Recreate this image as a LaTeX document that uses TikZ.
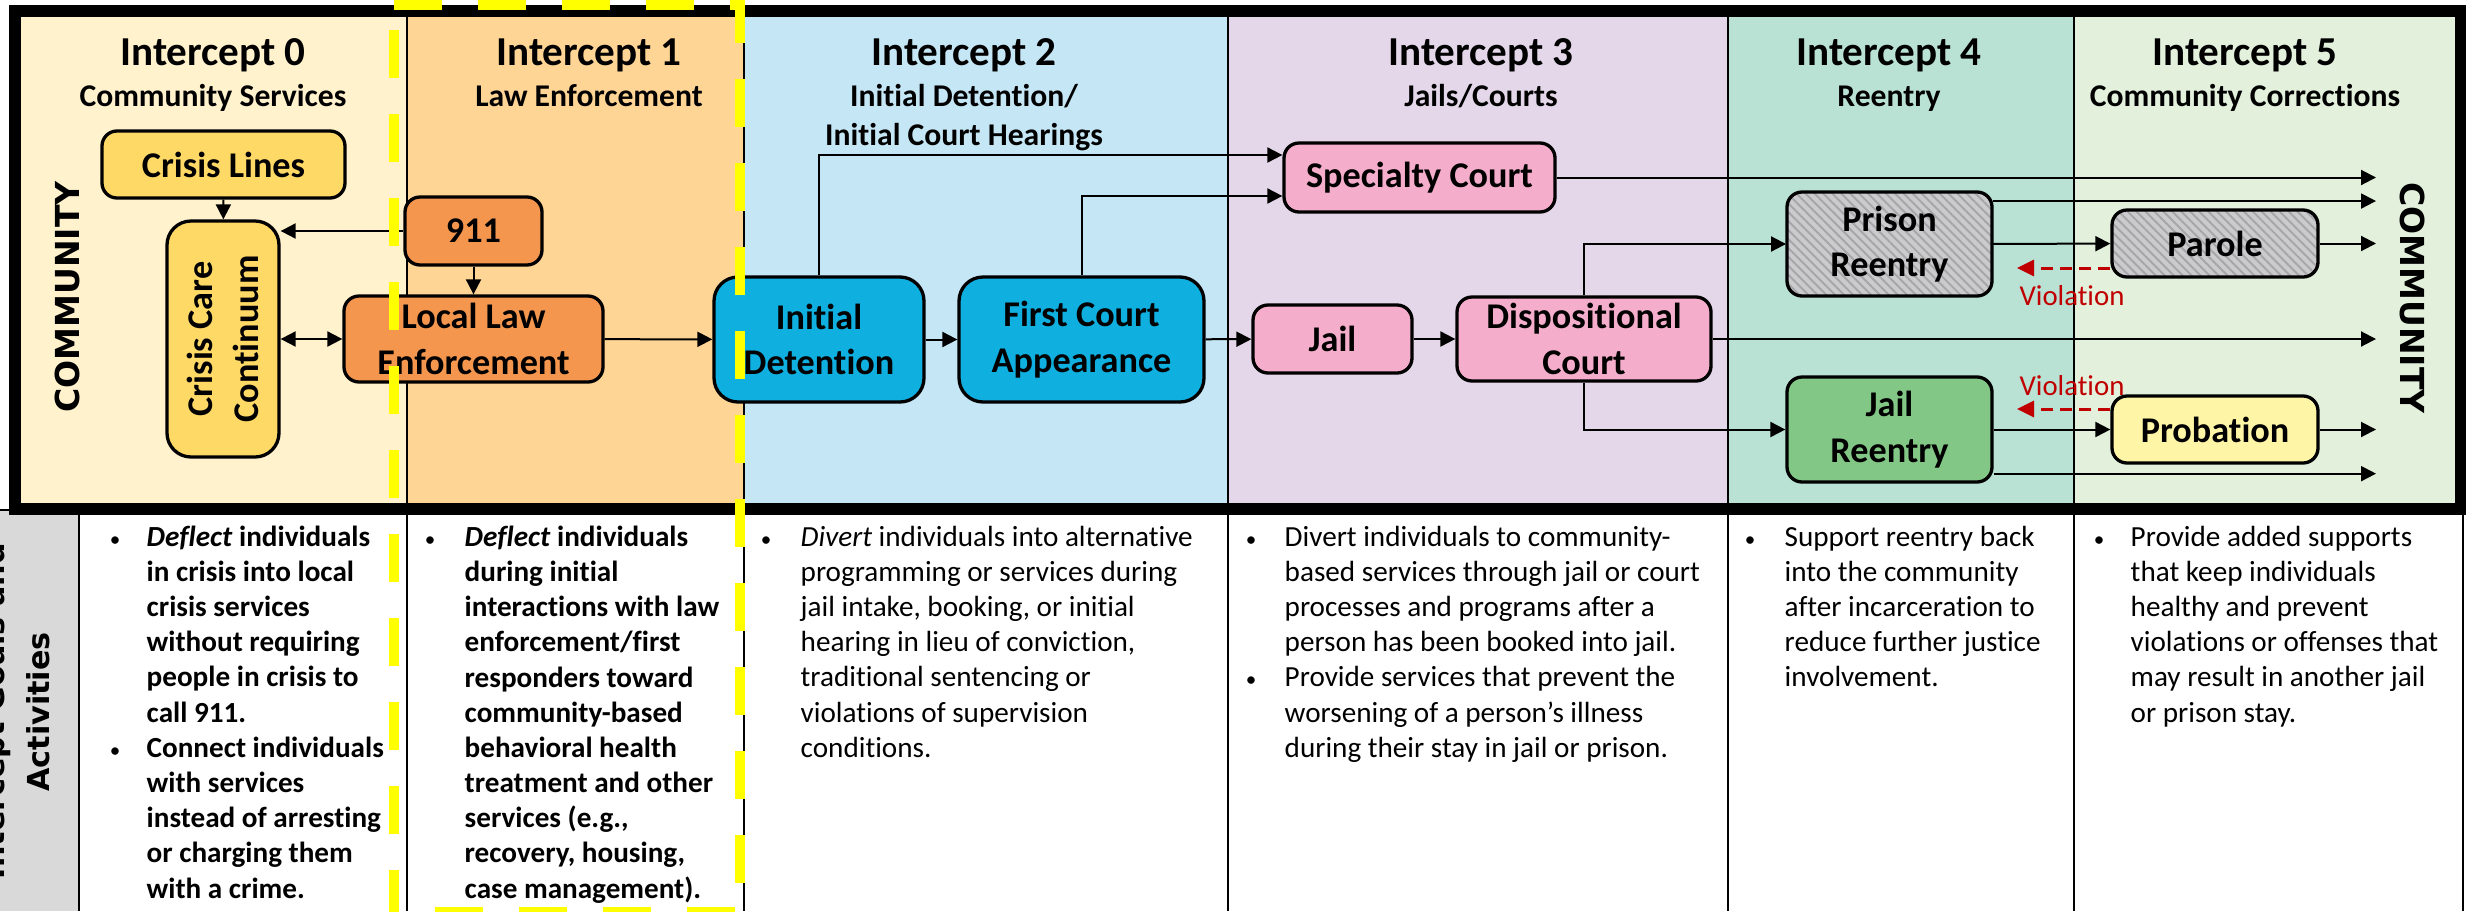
\documentclass[tikz,border=0pt]{standalone}
\usepackage{fontspec}
\usepackage{tikz}
\usetikzlibrary{arrows.meta}
\usetikzlibrary{patterns.meta}
\usetikzlibrary{calc}

\setmainfont{Carlito}[Ligatures=CommonOff]
\newfontfamily\widefont{DejaVu Sans}

\definecolor{colzero}{HTML}{FFF2CC}
\definecolor{colone}{HTML}{FFD596}
\definecolor{coltwo}{HTML}{C5E6F5}
\definecolor{colthree}{HTML}{E4D7EA}
\definecolor{colfour}{HTML}{B9E2D5}
\definecolor{colfive}{HTML}{E2F0DC}
\definecolor{sidegray}{HTML}{D9D9D9}
\definecolor{crisisgold}{HTML}{FFD966}
\definecolor{lawor}{HTML}{F5964F}
\definecolor{courtblue}{HTML}{0FAFE0}
\definecolor{jailpink}{HTML}{F4ADCA}
\definecolor{reentgreen}{HTML}{82C785}
\definecolor{probyellow}{HTML}{FFF5A6}
\definecolor{hatchgray}{HTML}{CBCBCE}
\definecolor{stripegray}{HTML}{A6A6A8}
\definecolor{viored}{HTML}{C00000}
\definecolor{dashyellow}{HTML}{FFFF00}

\begin{document}
\begin{tikzpicture}
		[x=0.1mm, y=-0.1mm,
		every node/.style={inner sep=0pt},
		>={Triangle[length=1.5mm,width=1.5mm]}
		]
		
		% Box, arrow and text styles
		\tikzstyle{stage}=[draw, line width=0.33mm, rounded corners=1.5mm, align=center, font=\fontsize{10.3}{13}\selectfont\bfseries];
		\tikzstyle{big stage}=[stage, rounded corners=2.4mm];
		\tikzstyle{hatched}=[preaction={fill=hatchgray}, pattern={Lines[angle=-45,distance=1.8pt,line width=0.55pt]}, pattern color=stripegray];
		\tikzstyle{flow}=[draw, line width=0.2mm, ->];
		\tikzstyle{violation}=[draw=viored, line width=0.3mm, dash pattern=on 1.2mm off 0.7mm, -{Triangle[length=1.7mm,width=1.6mm]}, viored];
		\tikzstyle{viotext}=[text=viored, font=\fontsize{8.2}{10}\selectfont];
		\tikzstyle{title}=[font=\fontsize{11.7}{14}\selectfont\bfseries];
		\tikzstyle{subtitle}=[align=center, font=\fontsize{9}{11.2}\selectfont\bfseries];
		\tikzstyle{side}=[font=\widefont\bfseries\fontsize{9.4}{11}\selectfont];
		\tikzstyle{goal}=[align=left, anchor=base west, font=\fontsize{8.3}{10}\selectfont];
		\tikzstyle{goal bold}=[goal, font=\fontsize{8.3}{10}\selectfont\bfseries];
		\tikzstyle{dot}=[anchor=base, font=\fontsize{6}{10}\selectfont];
		\tikzstyle{yellow dash}=[dashyellow, line width=1mm, dash pattern=on 4.8mm off 3.6mm];
		
		\path[use as bounding box, clip] (0,0) rectangle (2466,911);
		
		% Column backgrounds
		\foreach \a/\b/\c in {19/407/colzero, 407/744/colone, 744/1228/coltwo, 1228/1728/colthree, 1728/2074/colfour, 2074/2456/colfive}
		\fill[\c] (\a,17) rectangle (\b,503);
		\fill[white] (0,515) rectangle (2466,911);
		\fill[sidegray] (0,509) rectangle (79,911);
		
		% Column lines
		\foreach \x in {407, 744, 1228, 1728, 2074} \draw[line width=0.2mm] (\x,17) -- (\x,911);
		\draw[line width=0.2mm] (79,509) -- (79,911);
		\draw[line width=0.2mm] (2463,509) -- (2463,911);
		\draw[line width=0.2mm] (0,510) -- (20,510);
		\draw[line width=1.2mm] (14.5,11) rectangle (2461,509);
		
		% Headings
		\foreach \x/\n in {213/0, 589/1, 964/2, 1481/3, 1889/4, 2245/5}
		\node[title, anchor=base] (int\n) at (\x,65) {Intercept \n};
		\node[subtitle, anchor=base] (sub0) at (213,106) {Community Services};
		\node[subtitle, anchor=base] (sub1) at (589,106) {Law Enforcement};
		\node[subtitle, anchor=base] (sub2) at (964,145.5) {Initial Detention/\\Initial Court Hearings};
		\node[subtitle, anchor=base] (sub3) at (1481,106) {Jails/Courts};
		\node[subtitle, anchor=base] (sub4) at (1889,106) {Reentry};
		\node[subtitle, anchor=base] (sub5) at (2245,106) {Community Corrections};
		
		\node[side, rotate=90] (commleft) at (67,297) {COMMUNITY};
		\node[side, rotate=-90] (commright) at (2412,298) {COMMUNITY};
		
		% Intercept 0
		\node[stage, fill=crisisgold, minimum width=24.3mm, minimum height=6.7mm] (lines) at (223.5,164.5) {Crisis Lines};
		\node[big stage, fill=crisisgold, rotate=90, minimum width=23.6mm, minimum height=11.2mm] (care) at (223,339) {Crisis Care\\Continuum};
		
		% Intercept 1
		\node[stage, fill=lawor, minimum width=13.7mm, minimum height=6.8mm] (call) at (473.5,231) {911};
		\node[stage, fill=lawor, minimum width=25.9mm, minimum height=8.6mm] (police) at (473.5,339) {Local Law\\Enforcement};
		
		% Intercept 2
		\node[big stage, fill=courtblue, minimum width=21mm, minimum height=12.5mm] (detain) at (819,339.5) {Initial\\Detention};
		\node[big stage, fill=courtblue, minimum width=24.5mm, minimum height=12.5mm] (first) at (1081.5,339.5) {First Court\\Appearance};
		
		% Intercept 3
		\node[stage, fill=jailpink, minimum width=27.1mm, minimum height=6.9mm] (special) at (1419.5,177.5) {Specialty Court};
		\node[stage, fill=jailpink, minimum width=15.9mm, minimum height=6.8mm] (jail) at (1332.5,339) {Jail};
		\node[stage, fill=jailpink, minimum width=25.4mm, minimum height=8.4mm] (dispo) at (1584,339) {Dispositional\\Court};
		
		% Intercept 4
		\node[stage, hatched, minimum width=20.5mm, minimum height=10.4mm] (prison) at (1889.5,244) {Prison\\Reentry};
		\node[stage, fill=reentgreen, minimum width=20.5mm, minimum height=10.5mm] (jailre) at (1889.5,429.5) {Jail\\Reentry};
		
		% Intercept 5
		\node[stage, hatched, minimum width=20.6mm, minimum height=6.7mm] (parole) at (2215,243.5) {Parole};
		\node[stage, fill=probyellow, minimum width=20.6mm, minimum height=6.7mm] (probation) at (2215,429.5) {Probation};
		
		% Arrows
		\coordinate (exit) at (2376,0);
		\coordinate (vio) at (2017,0);
		\draw[flow] (lines) -- (care);
		\draw[flow] (call) -- (call -| care.south);
		\draw[flow] (call) -- (police);
		\draw[flow, <->] (care.south) -- (police);
		\draw[flow] (police) -- (detain);
		\draw[flow] (detain) -- (first);
		\draw[flow] (first) -- (jail);
		\draw[flow] (jail) -- (dispo);
		\draw[flow] (detain.north) |- ([yshift=2.25mm]special.west);
		\draw[flow] (first.north) |- ([yshift=-1.85mm]special.west);
		\draw[flow] (special) -- (special -| exit);
		\draw[flow] (dispo.north) |- (prison);
		\draw[flow] (dispo.south) |- (jailre);
		\draw[flow] (dispo) -- (dispo -| exit);
		\draw[flow] ([yshift=-1mm]prison.north east) -- ([yshift=-1mm]prison.north east -| exit);
		\draw[flow] (prison) -- (parole);
		\draw[flow] (parole) -- (parole -| exit);
		\draw[flow] (jailre) -- (probation);
		\draw[flow] (probation) -- (probation -| exit);
		\draw[flow] ([yshift=1mm]jailre.south east) -- ([yshift=1mm]jailre.south east -| exit);
		
		% Violations back to reentry
		\draw[violation] ([yshift=-2.45mm]parole.west) -- ([yshift=-2.45mm]parole.west -| vio);
		\node[viotext, anchor=base] (vioparole) at (2072,305) {Violation};
		\draw[violation] ([yshift=2.05mm]probation.west) -- ([yshift=2.05mm]probation.west -| vio);
		\node[viotext, anchor=base] (vioprob) at (2072,395) {Violation};
		
		% Goals and activities row
		\node[side, rotate=90, anchor=base, font=\widefont\bfseries\fontsize{8.6}{10}\selectfont] (goals) at (4,711) {Intercept Goals and};
		\node[side, rotate=90, anchor=base, font=\widefont\bfseries\fontsize{8.6}{10}\selectfont] (activ) at (49,712) {Activities};
		
		\node[dot] (b0a) at (115,546) {\textbullet};
		\node[goal bold] (g0a) at (146,722) {\textit{Deflect} individuals\\in crisis into local\\crisis services\\without requiring\\people in crisis to\\call 911.};
		\node[dot] (b0b) at (115,757.2) {\textbullet};
		\node[goal bold] (g0b) at (146,898) {Connect individuals\\with services\\instead of arresting\\or charging them\\with a crime.};
		
		\node[dot] (b1) at (430,546) {\textbullet};
		\node[goal bold] (g1) at (464,898) {\textit{Deflect} individuals\\during initial\\interactions with law\\enforcement/first\\responders toward\\community-based\\behavioral health\\treatment and other\\services (e.g.,\\recovery, housing,\\case management).};
		
		\node[dot] (b2) at (766,546) {\textbullet};
		\node[goal] (g2) at (800,757.2) {\textit{Divert} individuals into alternative\\programming or services during\\jail intake, booking, or initial\\hearing in lieu of conviction,\\traditional sentencing or\\violations of supervision\\conditions.};
		
		\node[dot] (b3a) at (1251,546) {\textbullet};
		\node[goal] (g3a) at (1284,651.6) {Divert individuals to community-\\based services through jail or court\\processes and programs after a\\person has been booked into jail.};
		\node[dot] (b3b) at (1251,686.8) {\textbullet};
		\node[goal] (g3b) at (1284,757.2) {Provide services that prevent the\\worsening of a person’s illness\\during their stay in jail or prison.};
		
		\node[dot] (b4) at (1750,546) {\textbullet};
		\node[goal] (g4) at (1784,686.8) {Support reentry back\\into the community\\after incarceration to\\reduce further justice\\involvement.};
		
		\node[dot] (b5) at (2099,546) {\textbullet};
		\node[goal] (g5) at (2130,722) {Provide added supports\\that keep individuals\\healthy and prevent\\violations or offenses that\\may result in another jail\\or prison stay.};
		
		% Dashed outline round intercept 1
		\draw[yellow dash] (394,5) -- (740,5) -- (740,917);
		\draw[yellow dash] (394,30) -- (394,917);
		\draw[yellow dash] (435,912) -- (740,912);
\end{tikzpicture}
\end{document}
